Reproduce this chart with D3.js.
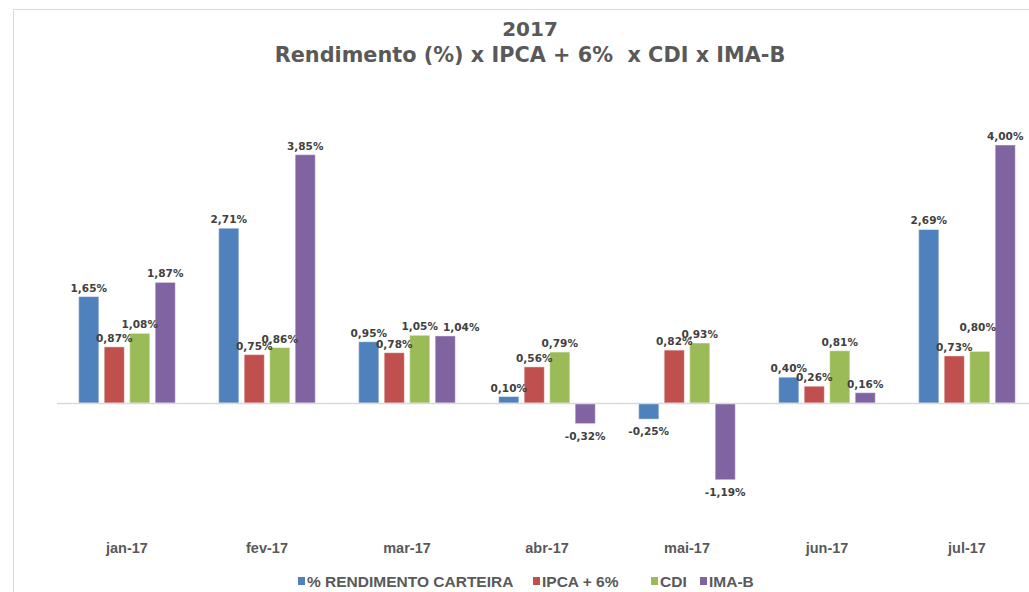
<!DOCTYPE html>
<html>
<head>
<meta charset="utf-8">
<script src="https://cdn.jsdelivr.net/npm/d3@7"></script>
<style>
  body { margin: 0; background: #fff; }
</style>
</head>
<body>
<div id="chart"></div>
<script>
// chart data
var months = ["jan-17", "fev-17", "mar-17", "abr-17", "mai-17", "jun-17", "jul-17"];
var seriesNames = ["% RENDIMENTO CARTEIRA", "IPCA + 6%", "CDI", "IMA-B"];
var carteira = [1.65, 2.71, 0.95, 0.10, -0.25, 0.40, 2.69];
var ipca = [0.87, 0.75, 0.78, 0.56, 0.82, 0.26, 0.73];
var cdi = [1.08, 0.86, 1.05, 0.79, 0.93, 0.81, 0.80];
var imab = [1.87, 3.85, 1.04, -0.32, -1.19, 0.16, 4.00];
var colors = ["#4F81BD", "#C0504D", "#9BBB59", "#8064A2"];

// labels that were moved by hand in the original (month|series -> [dx, dy])
var labelNudge = { "mar-17|3": [16, 0], "jul-17|2": [-2, -15] };

var width = 1029, height = 592;

var svg = d3.select("#chart").append("svg")
  .attr("width", width)
  .attr("height", height);

// frame
svg.append("path")
  .attr("d", "M13.5," + height + "V9.5H" + width)
  .attr("fill", "none")
  .attr("stroke", "#d9d9d9");

// title
var title = svg.append("text")
  .attr("text-anchor", "middle")
  .attr("xml:space", "preserve")
  .style("font-family", "DejaVu Sans, Verdana, sans-serif")
  .style("font-weight", "bold")
  .attr("fill", "#595959");
title.append("tspan").attr("x", 530).attr("y", 36).style("font-size", "20px").text("2017");
title.append("tspan").attr("x", 530).attr("y", 62).style("font-size", "20.8px")
  .text("Rendimento (%) x IPCA + 6%  x CDI x IMA-B");

// build table
var data = months.map(function(m, i) {
  return { month: m, values: [carteira[i], ipca[i], cdi[i], imab[i]] };
});

var x = d3.scaleBand()
  .domain(months)
  .range([57, 1037])
  .padding(0);

var xInner = d3.scaleBand()
  .domain(d3.range(seriesNames.length))
  .range([21.7, 118.3])
  .paddingInner(0.21)
  .paddingOuter(0);

var y = d3.scaleLinear()
  .domain([-2, 4])
  .range([532, 145]);

function fmt(v) {
  return d3.format(".2f")(v).replace(".", ",").replace("−", "-") + "%";
}

function items(d) {
  return d.values.map(function(v, k) { return { month: d.month, k: k, v: v }; });
}

function nudge(d) {
  return labelNudge[d.month + "|" + d.k] || [0, 0];
}

var groups = svg.selectAll(".grp")
  .data(data)
  .enter()
  .append("g")
  .attr("class", "grp")
  .attr("transform", function(d) { return "translate(" + x(d.month) + ",0)"; });

groups.selectAll("rect")
  .data(items)
  .enter()
  .append("rect")
  .attr("x", function(d) { return xInner(d.k); })
  .attr("width", xInner.bandwidth())
  .attr("y", function(d) { return y(Math.max(0, d.v)); })
  .attr("height", function(d) { return Math.abs(y(d.v) - y(0)); })
  .attr("fill", function(d) { return colors[d.k]; })
  .attr("stroke", "rgba(255,255,255,0.45)")
  .attr("stroke-width", 1);

groups.selectAll("text.lbl")
  .data(items)
  .enter()
  .append("text")
  .attr("class", "lbl")
  .attr("x", function(d) { return xInner(d.k) + xInner.bandwidth() / 2 + nudge(d)[0]; })
  .attr("y", function(d) { return (d.v >= 0 ? y(d.v) - 5 : y(d.v) + 16) + nudge(d)[1]; })
  .attr("text-anchor", "middle")
  .style("font-family", "DejaVu Sans, Verdana, sans-serif")
  .style("font-weight", "bold")
  .style("font-size", "10.5px")
  .attr("fill", "#404040")
  .text(function(d) { return fmt(d.v); });

// zero axis line
svg.append("line")
  .attr("x1", 57).attr("x2", width)
  .attr("y1", y(0) + 0.5).attr("y2", y(0) + 0.5)
  .attr("stroke", "#d9d9d9")
  .attr("stroke-width", 1.5);

// month labels
svg.selectAll(".mlabel")
  .data(months)
  .enter()
  .append("text")
  .attr("class", "mlabel")
  .attr("x", function(d) { return x(d) + x.bandwidth() / 2; })
  .attr("y", 553)
  .attr("text-anchor", "middle")
  .style("font-family", "Liberation Sans Narrow, Arial Narrow, sans-serif")
  .style("font-weight", "bold")
  .style("font-size", "14.5px")
  .attr("fill", "#595959")
  .text(function(d) { return d; });

// legend
var legendX = [298, 533, 651, 700];
var legend = svg.selectAll(".leg")
  .data(seriesNames)
  .enter()
  .append("g")
  .attr("class", "leg")
  .attr("transform", function(d, i) { return "translate(" + legendX[i] + ",0)"; });

legend.append("rect")
  .attr("x", 0).attr("y", 577)
  .attr("width", 7).attr("height", 8)
  .attr("fill", function(d, i) { return colors[i]; });

legend.append("text")
  .attr("x", 9).attr("y", 587)
  .style("font-family", "Liberation Sans Narrow, Arial Narrow, sans-serif")
  .style("font-weight", "bold")
  .style("font-size", "15.5px")
  .attr("fill", "#595959")
  .text(function(d) { return d; });
</script>
</body>
</html>
